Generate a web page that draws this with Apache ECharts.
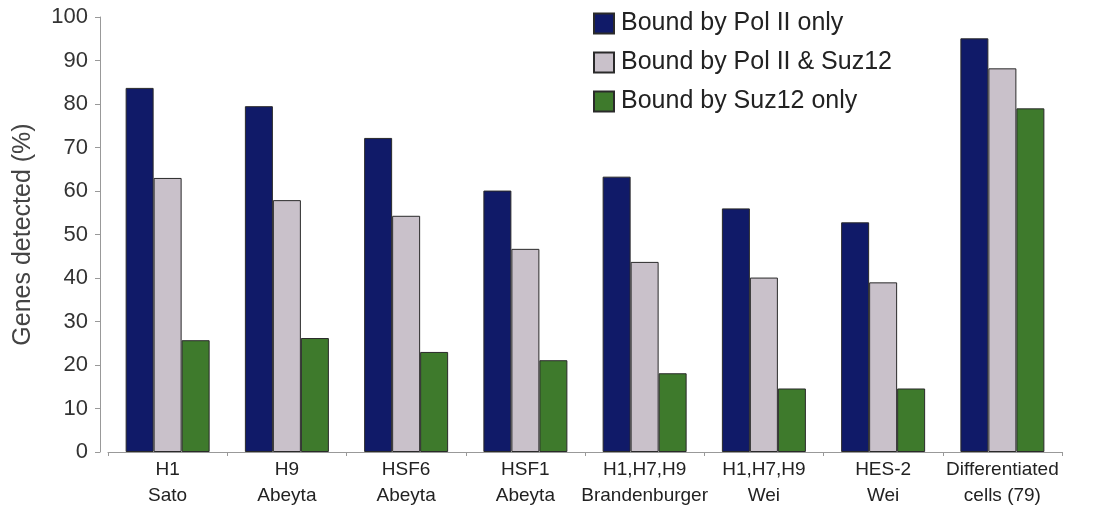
<!DOCTYPE html>
<html>
<head>
<meta charset="utf-8">
<script src="https://cdn.jsdelivr.net/npm/echarts@6/dist/echarts.min.js"></script>
<style>
  html, body { margin: 0; padding: 0; background: #fff; }
  #chart { width: 1093px; height: 508px; }
</style>
</head>
<body>
<div id="chart"></div>
<script>
// Cell lines / studies on the x axis
const categories = [
  'H1\nSato', 'H9\nAbeyta', 'HSF6\nAbeyta', 'HSF1\nAbeyta',
  'H1,H7,H9\nBrandenburger', 'H1,H7,H9\nWei', 'HES-2\nWei',
  'Differentiated\ncells (79)'
];
const seriesNames = ['Bound by Pol II only', 'Bound by Pol II & Suz12', 'Bound by Suz12 only'];
// Percentage of genes detected per binding class
const polIIOnly = [83.7, 79.5, 72.2, 60.1, 63.3, 56.0, 52.8, 95.1];
const polIIAndSuz12 = [63.0, 57.9, 54.3, 46.7, 43.7, 40.1, 39.0, 88.2];
const suz12Only = [25.7, 26.2, 23.0, 21.1, 18.1, 14.6, 14.6, 79.0];
const yTicks = [0, 10, 20, 30, 40, 50, 60, 70, 80, 90, 100];

const colors = ['#101a68', '#c9c1ca', '#3e7a2c'];
const font = '"Liberation Sans", Arial, sans-serif';

const chart = echarts.init(document.getElementById('chart'), null, { renderer: 'canvas' });

function bar(name, data, color) {
  return {
    name: name,
    type: 'bar',
    data: data,
    barWidth: 28,
    barGap: '0%',
    itemStyle: { color: color, borderColor: '#2a2a2a', borderWidth: 1 }
  };
}

chart.setOption({
  animation: false,
  backgroundColor: '#ffffff',
  textStyle: { fontFamily: font },
  grid: { left: 108, right: 31, top: 17, bottom: 56, containLabel: false, outerBoundsMode: 'none' },
  legend: {
    orient: 'vertical',
    left: 593,
    top: 11,
    padding: 0,
    itemWidth: 20,
    itemHeight: 20,
    itemGap: 14,
    icon: 'rect',
    textStyle: { fontSize: 25, color: '#222', fontFamily: font, padding: [0, 0, 0, 2] },
    data: seriesNames
  },
  xAxis: {
    type: 'category',
    data: categories,
    axisLine: { lineStyle: { color: '#999', width: 1 } },
    axisTick: { show: true, alignWithLabel: false, length: 4, lineStyle: { color: '#999' } },
    axisLabel: { fontSize: 19, color: '#222', lineHeight: 26, margin: 5, interval: 0, fontFamily: font }
  },
  yAxis: {
    type: 'value',
    min: yTicks[0],
    max: yTicks[yTicks.length - 1],
    interval: 10,
    offset: 8,
    name: 'Genes detected (%)',
    nameLocation: 'middle',
    nameRotate: 90,
    nameGap: 64,
    nameTextStyle: { fontSize: 25, color: '#444', fontFamily: font },
    splitLine: { show: false },
    axisLine: { show: true, lineStyle: { color: '#999', width: 1 } },
    axisTick: { show: true, inside: false, length: 5, lineStyle: { color: '#999' } },
    axisLabel: { fontSize: 22, color: '#333', margin: 12, fontFamily: font }
  },
  series: [
    bar(seriesNames[0], polIIOnly, colors[0]),
    bar(seriesNames[1], polIIAndSuz12, colors[1]),
    bar(seriesNames[2], suz12Only, colors[2])
  ]
});
</script>
</body>
</html>
